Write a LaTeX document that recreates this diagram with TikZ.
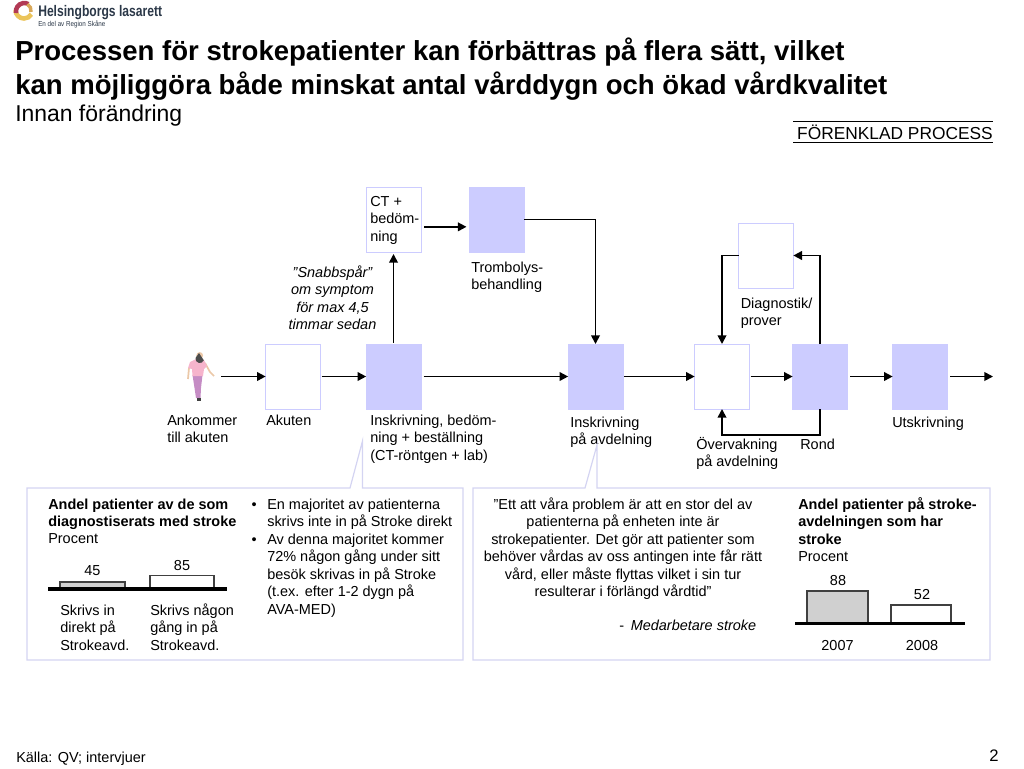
\documentclass[tikz,border=0pt]{standalone}
\usepackage{fontspec}
\setmainfont{Liberation Sans}
\usetikzlibrary{arrows.meta, positioning}
\definecolor{procblue}{HTML}{CCCCFF}
\definecolor{edgeblue}{HTML}{D4D4F2}
\definecolor{bargray}{HTML}{D0D0D0}
\definecolor{logotext}{HTML}{2B3848}
\definecolor{logoyellow}{HTML}{EBC45A}
\definecolor{logotan}{HTML}{D8A85A}
\definecolor{logored}{HTML}{B23A55}
\definecolor{shirtpink}{HTML}{F6B4CC}
\definecolor{trouser}{HTML}{C58CC4}
\definecolor{skin}{HTML}{EBC8A8}
\newcommand{\lh}{\rule{0pt}{10pt}}
\tikzset{
	procbox/.style={draw=procblue, fill=procblue, minimum width=41pt, minimum height=48.75pt, inner sep=0pt, outer sep=0pt},
	emptybox/.style={procbox, fill=white},
	lbl/.style={anchor=north west, inner sep=0pt, align=left, font=\fontsize{10.85}{13.1}\selectfont},
	lblc/.style={lbl, anchor=north, align=center},
	flow/.style={->, line width=1.3pt},
	bar/.style={draw=black!75, line width=0.8pt},
	baseline/.style={line width=2.4pt},
	callout/.style={draw=edgeblue, line width=0.9pt}
}

\begin{document}
\begin{tikzpicture}[>={Triangle[length=6.5pt,width=6.5pt]}, x=0.75pt, y=-0.75pt]
	\useasboundingbox (0,0) rectangle (1024,768);

	% Logo
	\draw[line width=3.4pt, color=logoyellow] (15.5,10) arc (180:30:8.5);
	\draw[line width=3.4pt, color=logored] (16,13) arc (170:300:8.5);
	\draw[line width=2.6pt, color=logotan] (31,12) arc (10:-60:7.5);
	\node[inner sep=0pt, anchor=west, text=logotext] (logoname) at (38,13) {\fontsize{11.5}{12}\selectfont\bfseries\addfontfeature{FakeStretch=0.79}Helsingborgs lasarett};
	\node[inner sep=0pt, anchor=west, text=logotext] (logosub) at (38,24.5) {\fontsize{5.4}{6}\selectfont\addfontfeature{FakeStretch=0.87}En del av Region Skåne};

	% Title
	\node[inner sep=0pt, anchor=base west, font=\fontsize{20.65}{22}\selectfont\bfseries] (title1) at (15,60) {Processen för strokepatienter kan förbättras på flera sätt, vilket};
	\node[inner sep=0pt, anchor=base west, font=\fontsize{20.65}{22}\selectfont\bfseries] (title2) at (15,94) {kan möjliggöra både minskat antal vårddygn och ökad vårdkvalitet};
	\node[inner sep=0pt, anchor=base west, font=\fontsize{17.2}{19}\selectfont] (subtitle) at (15,121) {Innan förändring};

	% Tag
	\node[inner sep=0pt, anchor=base east, font=\fontsize{13}{15}\selectfont] (tag) at (993,139) {FÖRENKLAD PROCESS};
	\coordinate (tagl) at (793,121.5);
	\coordinate (tagr) at (993,121.5);
	\draw[line width=0.7pt] (tagl) -- (tagr);
	\draw[line width=0.7pt] ([yshift=-15.75pt]tagl) -- ([yshift=-15.75pt]tagr);

	% Person
	\draw[line width=1.3pt, color=skin] (205,363) -- (210,372) -- (214,376);
	\draw[line width=1.3pt, color=skin] (189,368) -- (188,379);
	\fill[trouser] (192.5,375) -- (202.5,375) -- (201,388) -- (200.5,398) -- (196,398) -- (194.5,388) -- cycle;
	\fill[shirtpink] (190,362) -- (196,359) -- (204,360) -- (207,366) -- (204,369) -- (203,376) -- (192.5,376) -- (192,369) -- (188,368) -- cycle;
	\fill[skin] (199.7,355.5) circle (3.4);
	\fill[black!70] (195.5,358) arc (190:20:4.3) -- (199,353) -- cycle;
	\fill[black!75] (196.5,398) rectangle (200.5,401);
	\coordinate (personout) at (221,376.5);

	% Process boxes
	\node[emptybox] (akuten) at (293,376.5) {};
	\node[procbox] (inskr) at (393.5,376.5) {};
	\node[emptybox] (ct) at (394,219.5) {};
	\node[procbox] (tromb) at (496.5,219.5) {};
	\node[procbox] (avd) at (595.5,376.5) {};
	\node[emptybox] (overv) at (722,376.5) {};
	\node[emptybox] (diag) at (766,255.5) {};
	\node[procbox] (rond) at (820,376.5) {};
	\node[procbox] (utskr) at (920,376.5) {};
	\coordinate (out) at (993,376.5);

	% Flow
	\draw[flow] (personout) -- (akuten.west);
	\draw[flow, shorten <=1pt] (akuten.east) -- (inskr.west);
	\draw[flow, shorten <=2pt] (inskr.east) -- (avd.west);
	\draw[flow, shorten <=1pt] (avd.east) -- (overv.west);
	\draw[flow, shorten <=1pt] (overv.east) -- (rond.west);
	\draw[flow, shorten <=2pt] (rond.east) -- (utskr.west);
	\draw[flow, shorten <=2pt] (utskr.east) -- (out);
	\draw[flow, shorten <=1pt, shorten >=1.5pt] (inskr.north) -- (ct.south -| inskr.north);
	\draw[flow, shorten <=2pt, shorten >=2pt] ([yshift=-5.5pt]ct.east) -- ([yshift=-5.5pt]tromb.west);
	\draw[flow] (tromb.east) -| (avd.north);
	\draw[flow] (diag.west) -| (overv.north);
	\draw[flow] (rond.north) |- (diag.east);
	\draw[flow] (rond.south) -- ++(0,26) -| (overv.south);

	% Box labels
	\node[lbl] (ctlbl) at (370,192.7) {\lh CT +\\bedöm-\\ning};
	\node[lbl] (tromblbl) at (471,258.7) {\lh Trombolys-\\behandling};
	\node[lbl] (diaglbl) at (740.5,294.7) {\lh Diagnostik/\\prover};
	\node[lblc, font=\fontsize{10.85}{13.1}\selectfont\itshape] (snabb) at (332.5,263.7) {\lh ”Snabbspår”\\om symptom\\för max 4,5\\timmar sedan};
	\node[lbl] (anklbl) at (167,411.7) {\lh Ankommer\\till akuten};
	\node[lbl] (aklbl) at (266,411.7) {\lh Akuten};
	\node[lbl] (inlbl) at (370,411.7) {\lh Inskrivning, bedöm-\\ning + beställning\\(CT-röntgen + lab)};
	\node[lbl] (avdlbl) at (570,413.7) {\lh Inskrivning\\på avdelning};
	\node[lbl] (ovlbl) at (696,435.7) {\lh Övervakning\\på avdelning};
	\node[lbl] (rolbl) at (800,435.7) {\lh Rond};
	\node[lbl] (utlbl) at (892,413.7) {\lh Utskrivning};

	% Left callout
	\draw[callout, fill=white] (27,488) -- (350,488) -- (362.5,441) -- (362.5,488) -- (463,488) -- (463,660) -- (27,660) -- cycle;
	\node[lbl, font=\fontsize{10.85}{13.1}\selectfont\bfseries] (lefthead) at (48,495.7) {\lh Andel patienter av de som\\diagnostiserats med stroke};
	\node[lbl] (leftunit) at (48,529.7) {\lh Procent};
	\node[lbl] (b1) at (267,495.7) {\lh En majoritet av patienterna\\skrivs inte in på Stroke direkt};
	\node[lbl] (b2) at (267,530.7) {\lh Av denna majoritet kommer\\72\% någon gång under sitt\\besök skrivas in på Stroke\\(t.ex. efter 1-2 dygn på\\AVA-MED)};
	\node[lbl, left=7.5pt of b1.north west, anchor=north east] (b1dot) {\lh •};
	\node[lbl, left=7.5pt of b2.north west, anchor=north east] (b2dot) {\lh •};

	% Left chart
	\draw[bar, fill=bargray] (60,589) rectangle (125,582);
	\draw[bar, fill=white] (150,589) rectangle (214,575.5);
	\draw[baseline] (48,589) -- (227,589);
	\node[lblc] (v45) at (92.5,561.7) {\lh 45};
	\node[lblc] (v85) at (182,556.7) {\lh 85};
	\node[lbl] (c1) at (60,601.7) {\lh Skrivs in\\direkt på\\Strokeavd.};
	\node[lbl] (c2) at (150,601.7) {\lh Skrivs någon\\gång in på\\Strokeavd.};

	% Right callout
	\draw[callout, fill=white] (473,488) -- (585,488) -- (597,445) -- (597,488) -- (990,488) -- (990,660) -- (473,660) -- cycle;
	\node[lblc] (quote) at (623,495.7) {\lh ”Ett att våra problem är att en stor del av\\patienterna på enheten inte är\\strokepatienter. Det gör att patienter som\\behöver vårdas av oss antingen inte får rätt\\vård, eller måste flyttas vilket i sin tur\\resulterar i förlängd vårdtid”};
	\node[lbl] (who) at (619,616.7) {\lh -\hspace{5pt}\textit{Medarbetare stroke}};
	\node[lbl, font=\fontsize{10.85}{13.1}\selectfont\bfseries] (righthead) at (798,495.7) {\lh Andel patienter på stroke-\\avdelningen som har\\stroke};
	\node[lbl] (rightunit) at (798,547.7) {\lh Procent};

	% Right chart
	\draw[bar, fill=bargray] (807,623) rectangle (868,591);
	\draw[bar, fill=white] (891,623) rectangle (951,605);
	\draw[baseline] (795,623.5) -- (965,623.5);
	\node[lblc] (v88) at (838,571.7) {\lh 88};
	\node[lblc] (v52) at (922,585.7) {\lh 52};
	\node[lblc] (y07) at (837.5,636.7) {\lh 2007};
	\node[lblc] (y08) at (922,636.7) {\lh 2008};

	% Footer
	\node[lbl] (source) at (16,748.7) {\lh Källa: QV; intervjuer};
	\node[lbl, anchor=north east, font=\fontsize{12.5}{14}\selectfont] (pageno) at (999,747.7) {\lh 2};
\end{tikzpicture}
\end{document}
